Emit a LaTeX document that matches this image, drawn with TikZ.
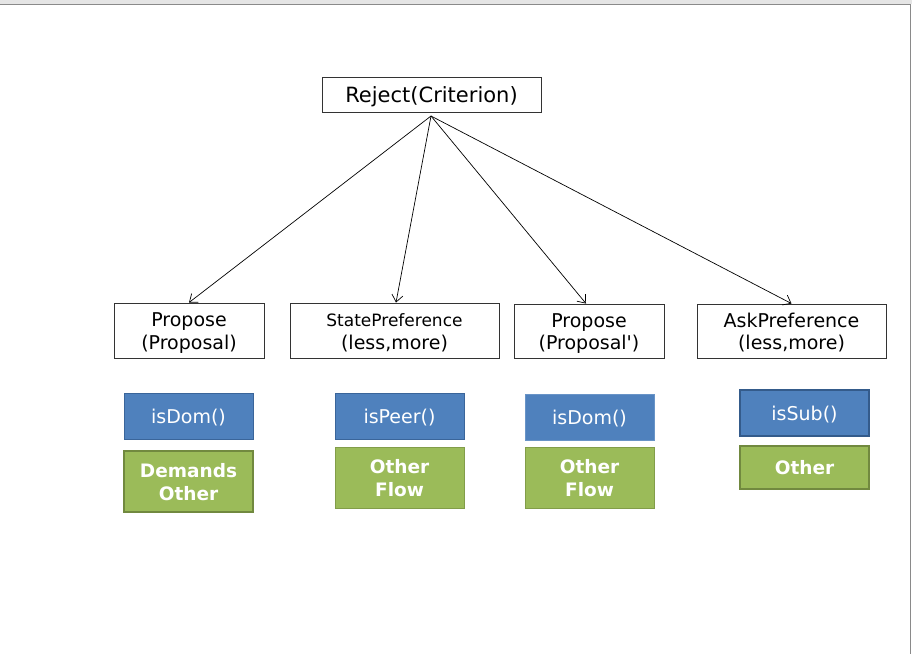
\documentclass[tikz,border=0pt]{standalone}
\usepackage{fontspec}
\newfontfamily\djv{DejaVu Sans}
\usetikzlibrary{arrows.meta}
\definecolor{boxblue}{HTML}{4F81BD}
\definecolor{blueedge}{HTML}{3A659A}
\definecolor{boxgreen}{HTML}{9BBB59}
\definecolor{greenedge}{HTML}{71893F}
\definecolor{frameg}{HTML}{8A8A8A}
\newcommand{\lowr}[2]{\raisebox{-#1}[\height][\depth]{\begin{tabular}{@{}c@{}}#2\end{tabular}}}
\tikzset{
  wbox/.style={draw=black!80, line width=0.9pt, fill=white, align=center, inner sep=0pt,
    font=\djv\fontsize{19}{22.5}\selectfont},
  bbox/.style={draw=blueedge, line width=0.8pt, fill=boxblue, text=white, align=center, inner sep=0pt,
    minimum width=129pt, minimum height=46pt, font=\djv\fontsize{19}{22}\selectfont},
  gbox/.style={draw=greenedge, line width=0.8pt, fill=boxgreen, text=white, align=center, inner sep=0pt,
    minimum width=129pt, font=\djv\bfseries\fontsize{18.5}{23}\selectfont},
  conn/.style={draw=black, line width=0.7pt, -{Straight Barb[length=7pt,width=11pt]}}
}
\begin{document}
\begin{tikzpicture}[x=1pt,y=-1pt]
\useasboundingbox (0,0) rectangle (912,654);
\fill[white] (0,0) rectangle (912,654);
\fill[black!10] (0,0) rectangle (912,4);
\draw[frameg, line width=1.2pt] (0,4.8) -- (910.5,4.8) -- (910.5,654);

\node[wbox, minimum width=219pt, minimum height=35pt, font=\djv\fontsize{21}{24}\selectfont] (rej) at (431.5,94.5) {\lowr{3pt}{Reject(Criterion)}};
\coordinate (apex) at (431,116);

\node[wbox, minimum width=150pt, minimum height=55pt] (p1) at (189,330.5) {\lowr{3pt}{Propose\\(Proposal)}};
\node[wbox, minimum width=209pt, minimum height=55pt] (sp) at (394.5,330.5) {\lowr{3pt}{\fontsize{17}{22.5}\selectfont StatePreference\\(less,more)}};
\node[wbox, minimum width=150pt, minimum height=54pt] (p2) at (589,331) {\lowr{3pt}{Propose\\(Proposal\symbol{39})}};
\node[wbox, minimum width=189pt, minimum height=54pt] (ap) at (791.5,331) {\lowr{3pt}{AskPreference\\(less,more)}};

\draw[conn] (apex) -- (p1.north);
\draw[conn] (apex) -- ([xshift=1.5pt]sp.north);
\draw[conn] (apex) -- ([xshift=-3pt]p2.north);
\draw[conn] (apex) -- (ap.north);

\node[bbox] (b1) at (188.5,416) {\lowr{3.5pt}{isDom()}};
\node[bbox] (b2) at (399.5,416) {\lowr{3.5pt}{isPeer()}};
\node[bbox, draw=boxblue!85!white] (b3) at (589.5,417) {\lowr{3.5pt}{isDom()}};
\node[bbox, line width=2pt, draw=blueedge!90!black] (b4) at (804.5,413) {\lowr{3.5pt}{isSub()}};

\node[gbox, minimum height=61pt, line width=2.6pt] (g1) at (188.5,481.5) {\lowr{2.5pt}{Demands\\Other}};
\node[gbox, minimum height=61pt, draw=greenedge!60!boxgreen] (g2) at (399.5,477.5) {\lowr{3pt}{Other\\Flow}};
\node[gbox, minimum height=61pt, draw=greenedge!60!boxgreen] (g3) at (589.5,477.5) {\lowr{3pt}{Other\\Flow}};
\node[gbox, minimum height=43pt, line width=2.2pt] (g4) at (804.5,467.5) {\lowr{2pt}{Other}};
\end{tikzpicture}
\end{document}
